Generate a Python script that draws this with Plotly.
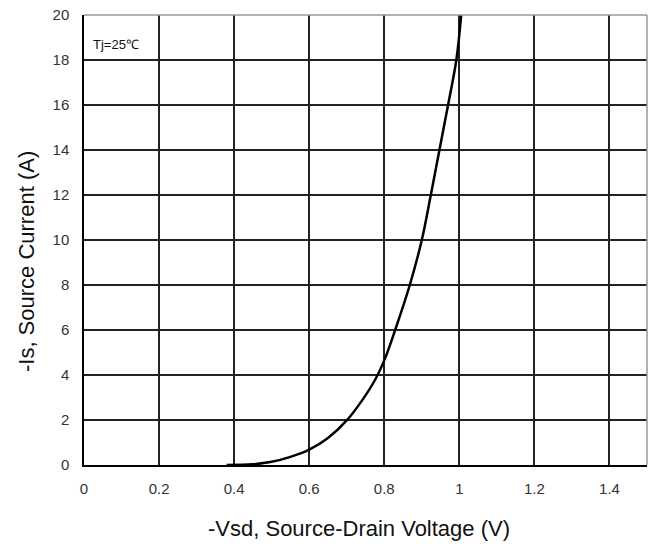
import plotly.graph_objects as go

vsd = [0.38, 0.45, 0.50, 0.55, 0.60, 0.65, 0.70, 0.74, 0.776, 0.80, 0.829, 0.868, 0.900, 0.924, 0.947, 0.970, 0.992, 1.005]
i_s = [0.0, 0.03, 0.14, 0.36, 0.68, 1.2, 1.98, 2.85, 3.8, 4.65, 6.0, 8.0, 10.0, 12.0, 14.0, 16.0, 18.0, 20.0]

x_ticks = [0, 0.2, 0.4, 0.6, 0.8, 1.0, 1.2, 1.4]
x_tick_text = ["0", "0.2", "0.4", "0.6", "0.8", "1", "1.2", "1.4"]
y_ticks = [0, 2, 4, 6, 8, 10, 12, 14, 16, 18, 20]

fig = go.Figure()
fig.add_trace(go.Scatter(x=vsd, y=i_s, mode="lines",
                         line=dict(color="black", width=2.5, shape="spline", smoothing=1.0),
                         showlegend=False, cliponaxis=True))

font = "Liberation Sans, Arial, sans-serif"
fig.update_layout(
    width=651, height=545,
    margin=dict(l=84, r=4, t=15, b=80),
    paper_bgcolor="white", plot_bgcolor="white",
    font=dict(family=font, color="#333"),
    xaxis=dict(range=[0, 1.5], tickvals=x_ticks, ticktext=x_tick_text,
               showgrid=True, gridcolor="#222", gridwidth=1.5,
               showline=True, linecolor="black", linewidth=1.5,
               ticks="", tickfont=dict(size=15, color="#333"),
               zeroline=False, fixedrange=True, ticklabelstandoff=9),
    yaxis=dict(range=[0, 20], tickvals=y_ticks,
               showgrid=True, gridcolor="#222", gridwidth=1.5,
               showline=True, linecolor="black", linewidth=1.5,
               ticks="", tickfont=dict(size=15, color="#333"),
               zeroline=False, fixedrange=True, ticklabelstandoff=10),
)

# gray top/right border
fig.add_shape(type="line", xref="paper", yref="paper", x0=0, x1=1, y0=1, y1=1,
              line=dict(color="#999", width=1.5))
fig.add_shape(type="line", xref="paper", yref="paper", x0=1, x1=1, y0=0, y1=1,
              line=dict(color="#999", width=1.5))

# axis titles
fig.add_annotation(text="-Vsd, Source-Drain Voltage (V)", xref="paper", yref="paper",
                   x=0.489, y=-0.14, xanchor="center", yanchor="middle", showarrow=False,
                   font=dict(size=22, color="#111", family=font))
fig.add_annotation(text="-Is, Source Current (A)", xref="paper", yref="paper",
                   x=-0.103, y=0.451, xanchor="center", yanchor="middle", showarrow=False,
                   textangle=-90, font=dict(size=22, color="#111", family=font))

fig.add_annotation(text="Tj=25℃", xref="paper", yref="y", x=0.012, y=18.67,
                   xanchor="left", yanchor="middle", showarrow=False,
                   font=dict(size=13, color="#111", family=font))

fig.write_html("out.html")
